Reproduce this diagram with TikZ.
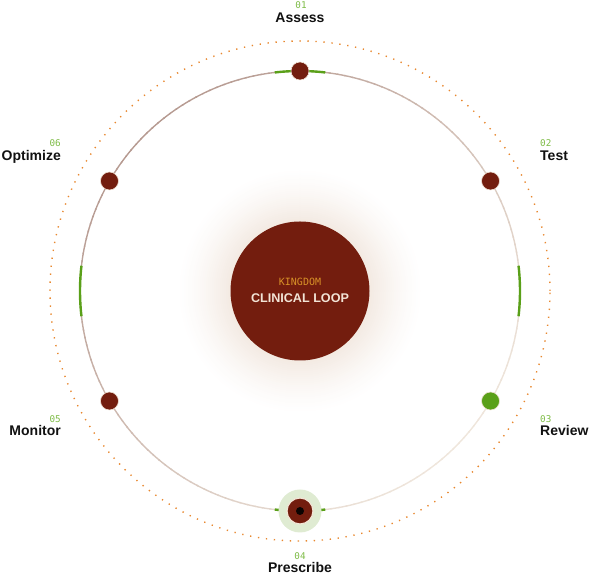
\documentclass[tikz,border=0pt]{standalone}
\usepackage{fontspec}
\usetikzlibrary{calc}
\setmainfont{Liberation Sans}
\newfontfamily\monof{DejaVu Sans Mono}
\definecolor{nodered}{HTML}{731D0E}
\definecolor{ringA}{HTML}{B69A91}
\definecolor{ringB}{HTML}{EFE6DC}
\definecolor{dotor}{HTML}{E8882F}
\definecolor{accgreen}{HTML}{5AA019}
\definecolor{numgreen}{HTML}{7DBB45}
\definecolor{glowA}{HTML}{F3EAE2}
\definecolor{halo}{HTML}{DFEBD2}
\definecolor{cream}{HTML}{F2E4D6}
\definecolor{gold}{HTML}{D89228}
\definecolor{inkblack}{HTML}{111111}
\tikzset{
  stepdot/.style={circle, fill=nodered, draw=cream, line width=0.6pt, minimum size=18pt, inner sep=0pt},
  lbl/.style={font=\bfseries\fontsize{14}{14}\selectfont, text=inkblack, inner sep=0pt},
  num/.style={font=\monof\fontsize{9.3}{9.3}\selectfont, text=numgreen, inner sep=0pt},
  greenarc/.style={accgreen, line width=2.4pt},
}
\begin{document}
\begin{tikzpicture}[x=1pt,y=1pt]
\useasboundingbox (0,0) rectangle (598,578);
\coordinate (C) at (300,287);
% glow
\foreach \r in {124,122,...,70}{
  \pgfmathsetmacro{\t}{100*((124-\r)/54)^1.4}
  \fill[glowA!\t!white] (C) circle (\r);
}
% dotted outer ring
\draw[dotor, line width=1.4pt, dash pattern=on 1.3pt off 6.7pt] (C) circle (250);
% gradient main ring
\foreach \a in {0,2,...,358}{
  \pgfmathsetmacro{\t}{50+50*cos(\a+1-135)}
  \draw[ringA!\t!ringB, line width=1.4pt] (C) ++(\a:220) arc[start angle=\a, end angle=\a+2.4, radius=220];
}
% green accent arcs
\draw[greenarc] (C) ++(83.4:220) arc[start angle=83.4, end angle=96.6, radius=220];
\draw[greenarc] (C) ++(263.4:220) arc[start angle=263.4, end angle=276.6, radius=220];
\draw[greenarc] (C) ++(173.4:220) arc[start angle=173.4, end angle=186.6, radius=220];
\draw[greenarc] (C) ++(-6.6:220) arc[start angle=-6.6, end angle=6.6, radius=220];
% centre
\node[circle, fill=nodered, minimum size=139pt, inner sep=0pt] (core) at (C) {};
\node[font=\monof\fontsize{10}{10}\selectfont, text=gold, inner sep=0pt] (kd) at (300,296.5) {KINGDOM};
\node[font=\bfseries\fontsize{12.6}{12.6}\selectfont, text=cream, inner sep=0pt] (cl) at (300,279.5) {CLINICAL LOOP};
% step nodes
\node[stepdot] (s1) at ($(C)+(90:220)$) {};
\node[stepdot] (s2) at ($(C)+(30:220)$) {};
\node[stepdot, fill=accgreen] (s3) at ($(C)+(-30:220)$) {};
\node[circle, fill=halo, minimum size=43pt, inner sep=0pt] (s4h) at ($(C)+(270:220)$) {};
\node[circle, fill=nodered, draw=cream, line width=1.2pt, minimum size=26pt, inner sep=0pt] (s4) at (s4h) {};
\node[circle, fill=black!90!nodered, minimum size=8pt, inner sep=0pt] (s4c) at (s4) {};
\node[stepdot] (s5) at ($(C)+(210:220)$) {};
\node[stepdot] (s6) at ($(C)+(150:220)$) {};
% labels
\node[lbl, anchor=base] (l1) at (300,555.3) {Assess};
\node[num, anchor=base] (n1) at (301,569.3) {01};
\node[lbl, anchor=base west] (l2) at (540,417.3) {Test};
\node[num, anchor=base west] (n2) at (540,431.5) {02};
\node[lbl, anchor=base west] (l3) at (540,142) {Review};
\node[num, anchor=base west] (n3) at (540,155.5) {03};
\node[lbl, anchor=base] (l4) at (300,5) {Prescribe};
\node[num, anchor=base] (n4) at (300,18.5) {04};
\node[lbl, anchor=base east] (l5) at (61,142) {Monitor};
\node[num, anchor=base east] (n5) at (61,155.5) {05};
\node[lbl, anchor=base east] (l6) at (61,417.3) {Optimize};
\node[num, anchor=base east] (n6) at (61,431.5) {06};
\end{tikzpicture}
\end{document}
